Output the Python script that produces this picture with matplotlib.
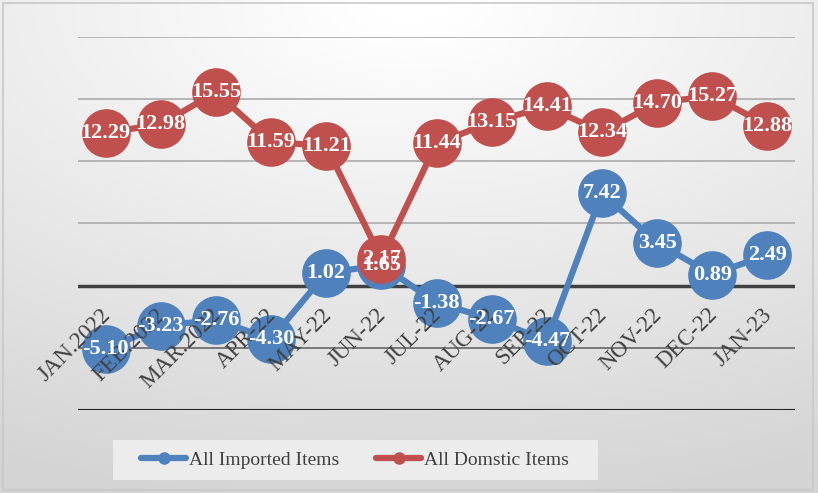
import numpy as np
import matplotlib.pyplot as plt
from matplotlib.patches import Rectangle
from matplotlib.colors import LinearSegmentedColormap

# month labels and the two series (percent change)
months = ["JAN.2022", "FEB.2022", "MAR.2022", "APR-22", "MAY-22", "JUN-22", "JUL-22",
          "AUG-22", "SEP-22", "OCT-22", "NOV-22", "DEC-22", "JAN-23"]
imported = [-5.10, -3.23, -2.76, -4.30, 1.02, 1.65, -1.38, -2.67, -4.47, 7.42, 3.45, 0.89, 2.49]
domestic = [12.29, 12.98, 15.55, 11.59, 11.21, 2.17, 11.44, 13.15, 14.41, 12.34, 14.70, 15.27, 12.88]
y_ticks = [-10, -5, 0, 5, 10, 15, 20]

blue = "#4F81BD"
red = "#C0504D"
serif = "Liberation Serif"

fig = plt.figure(figsize=(8.18, 4.93), dpi=100)

# light grey gradient background (white at top, grey towards the bottom corners)
bg = fig.add_axes([0, 0, 1, 1], zorder=-10)
cmap = LinearSegmentedColormap.from_list("bg", ["#ffffff", "#d4d4d4"])
yy, xx = np.mgrid[0:1:200j, 0:1:300j]
dist = np.sqrt((xx - 0.5) ** 2 + (yy * 1.1) ** 2)
bg.imshow(dist, cmap=cmap, vmin=0.05, vmax=1.15, aspect="auto", extent=[0, 1, 0, 1], origin="upper")
bg.set_xlim(0, 1)
bg.set_ylim(0, 1)
bg.axis("off")
fig.patches.append(Rectangle((0.004, 0.006), 0.99, 0.988, transform=fig.transFigure,
                             fill=False, edgecolor="#c8c8c8", linewidth=1.2))

ax = fig.add_axes([0.0954, 0.1684, 0.8765, 0.7566])
ax.patch.set_alpha(0)
x = np.arange(len(months))

# gridlines
for v in y_ticks:
    if v == 0:
        ax.axhline(v, color="#404040", linewidth=2.5, zorder=1)
    elif v == -10:
        ax.axhline(v, color="#202020", linewidth=1.5, zorder=1)
    elif v == -5:
        ax.axhline(v, color="#707070", linewidth=1.3, zorder=1)
    else:
        ax.axhline(v, color="#b0b0b0", linewidth=1.3, zorder=1)

ax.plot(x, imported, color=blue, linewidth=4.5, marker="o", markersize=34, zorder=3,
        label="All Imported Items")
ax.plot(x, domestic, color=red, linewidth=4.5, marker="o", markersize=34, zorder=4,
        label="All Domstic Items")

for xi, v in zip(x, imported):
    ax.text(xi, v, f"{v:.2f}", ha="center", va="center", color="white", fontsize=16,
            fontweight="bold", family=serif, zorder=6)
for xi, v in zip(x, domestic):
    ax.text(xi, v, f"{v:.2f}", ha="center", va="center", color="white", fontsize=16,
            fontweight="bold", family=serif, zorder=6)

# category labels sit just under the zero line
for xi, m in zip(x, months):
    ax.text(xi - 0.1, -1.5, m, rotation=45, ha="right", va="top", rotation_mode="anchor",
            fontsize=16.5, family=serif, color="#404040", zorder=5)

ax.set_xlim(-0.5, len(months) - 0.5)
ax.set_ylim(-10, 20)
ax.set_xticks([])
ax.set_yticks([])
for s in ax.spines.values():
    s.set_visible(False)

# legend
fig.patches.append(Rectangle((113 / 818, 1 - 480 / 493), 485 / 818, 40 / 493,
                             transform=fig.transFigure, facecolor="#ececec", edgecolor="none"))
h1 = plt.Line2D([], [], color=blue, linewidth=4.5, marker="o", markersize=8, solid_capstyle="round")
h2 = plt.Line2D([], [], color=red, linewidth=4.5, marker="o", markersize=8, solid_capstyle="round")
fig.legend([h1, h2], ["All Imported Items", "All Domstic Items"], loc="center",
           bbox_to_anchor=(355 / 818, 1 - 460 / 493), ncol=2, frameon=False,
           prop={"family": serif, "size": 14}, handlelength=2.3, handletextpad=0.15,
           columnspacing=1.9, labelcolor="#404040")

plt.savefig("out.png", dpi=100)
